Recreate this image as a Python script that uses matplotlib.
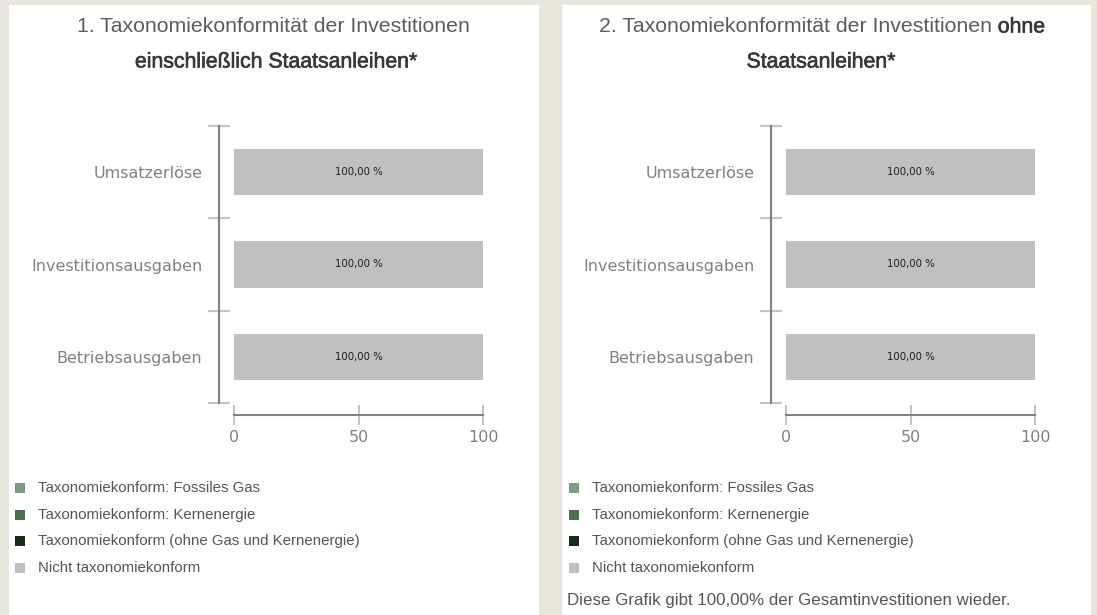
import matplotlib
matplotlib.use("Agg")
import matplotlib.pyplot as plt
import matplotlib.patheffects as pe
from matplotlib.patches import Rectangle
import numpy as np

W, H = 1097, 615

# --- data -------------------------------------------------------------
categories = ["Umsatzerlöse", "Investitionsausgaben", "Betriebsausgaben"]

# chart 1: incl. sovereign bonds
gas_incl = [0.0, 0.0, 0.0]
nuclear_incl = [0.0, 0.0, 0.0]
other_incl = [0.0, 0.0, 0.0]
not_aligned_incl = [100.0, 100.0, 100.0]

# chart 2: excl. sovereign bonds
gas_excl = [0.0, 0.0, 0.0]
nuclear_excl = [0.0, 0.0, 0.0]
other_excl = [0.0, 0.0, 0.0]
not_aligned_excl = [100.0, 100.0, 100.0]

x_ticks = [0, 50, 100]

legend_labels = [
    "Taxonomiekonform: Fossiles Gas",
    "Taxonomiekonform: Kernenergie",
    "Taxonomiekonform (ohne Gas und Kernenergie)",
    "Nicht taxonomiekonform",
]
legend_colors = ["#7f9c80", "#4a7049", "#182a19", "#c0c0c0"]

title1 = [("1. Taxonomiekonformität der Investitionen", "normal")]
title1b = [("einschließlich Staatsanleihen*", "bold")]
title2 = [("2. Taxonomiekonformität der Investitionen", "normal"), ("ohne", "bold")]
title2b = [("Staatsanleihen*", "bold")]
footnote = "Diese Grafik gibt 100,00% der Gesamtinvestitionen wieder."

TXT_FONT = ["Liberation Sans", "DejaVu Sans"]
AX_GRAY = "#808080"
TICK_GRAY = "#c4c4c4"

fig = plt.figure(figsize=(W / 100, H / 100), dpi=100, facecolor="#e8e5de")


def fx(x):
    return x / W


def fy(y):
    return 1 - y / H


def panel(x0, x1):
    fig.add_artist(Rectangle((fx(x0), fy(H)), (x1 - x0) / W, (H - 5) / H,
                             transform=fig.transFigure, facecolor="white",
                             edgecolor="none", zorder=-1))


def title_line(cx, y, parts, size=15.3):
    renderer = fig.canvas.get_renderer()
    texts = []
    for s, w in parts:
        if w == "normal":
            t = fig.text(0, fy(y), s, fontsize=size, color="#5c5c5c",
                         family=TXT_FONT, ha="left", va="center")
        else:
            # medium weight look: regular face with a thin stroke
            t = fig.text(0, fy(y), s, fontsize=size, color="#383838",
                         family=TXT_FONT, ha="left", va="center",
                         path_effects=[pe.withStroke(linewidth=0.45, foreground="#383838")])
        texts.append(t)
    widths = [t.get_window_extent(renderer).width for t in texts]
    gap = size * 1.389 * 0.28
    total = sum(widths) + gap * (len(texts) - 1)
    x = cx - total / 2
    for t, w in zip(texts, widths):
        t.set_x(fx(x))
        x += w + gap


def bar_chart(spine_x, bar_x0, bar_x1, series):
    top, bottom = 126, 403
    per100 = (bar_x1 - bar_x0) / 100.0
    xmin = -(bar_x0 - spine_x) / per100
    ax = fig.add_axes([fx(spine_x), fy(bottom), (bar_x1 - spine_x) / W, (bottom - top) / H])
    ax.set_facecolor("none")

    y = np.arange(len(categories))
    left = np.zeros(len(categories))
    cont = None
    for vals, col in zip(series, legend_colors):
        cont = ax.barh(y, vals, left=left, height=0.5, color=col, linewidth=0)
        left = left + np.array(vals)
    ax.bar_label(cont, labels=[f"{v:.2f}".replace(".", ",") + " %" for v in series[-1]],
                 label_type="center", fontsize=7.3, color="#1e1e1e")

    ax.set_xlim(xmin, 100)
    ax.set_ylim(len(categories) - 0.5, -0.5)
    ax.set_yticks(y)
    ax.set_yticklabels(categories)
    ax.set_yticks(np.arange(len(categories) + 1) - 0.5, minor=True)
    ax.tick_params(axis="y", which="major", length=0, pad=12, labelsize=11.5, labelcolor=AX_GRAY)
    ax.tick_params(axis="y", which="minor", length=16.5, width=1.6, color=TICK_GRAY, direction="inout")
    ax.set_xticks(x_ticks)
    ax.tick_params(axis="x", length=14.4, width=1.4, color=TICK_GRAY, direction="inout",
                   pad=4, labelsize=11.5, labelcolor=AX_GRAY)

    for s in ["top", "right"]:
        ax.spines[s].set_visible(False)
    ax.spines["left"].set_color(AX_GRAY)
    ax.spines["left"].set_linewidth(1.5)
    ax.spines["bottom"].set_color(AX_GRAY)
    ax.spines["bottom"].set_linewidth(1.5)
    ax.spines["bottom"].set_position(("outward", 8.6))
    ax.spines["bottom"].set_bounds(0, 100)
    return ax


def legend(x_sq, x_txt):
    rows = [488, 515, 541, 568]
    for yy, lab, col in zip(rows, legend_labels, legend_colors):
        fig.add_artist(Rectangle((fx(x_sq), fy(yy + 5)), 10 / W, 10 / H,
                                 transform=fig.transFigure, facecolor=col, edgecolor="none"))
        fig.text(fx(x_txt), fy(yy), lab, fontsize=10.8, color="#555555",
                 family=TXT_FONT, ha="left", va="center")


# --- panels -----------------------------------------------------------
panel(9, 539)
panel(562, 1091)

title_line(273, 27, title1)
title_line(276, 62, title1b)
title_line(822, 27, title2)
title_line(821, 62, title2b)

bar_chart(219, 234, 483, [gas_incl, nuclear_incl, other_incl, not_aligned_incl])
bar_chart(771, 786, 1035, [gas_excl, nuclear_excl, other_excl, not_aligned_excl])

legend(15, 38)
legend(569, 592)
fig.text(fx(567), fy(601), footnote, fontsize=12.2, color="#555555",
         family=TXT_FONT, ha="left", va="center")

fig.savefig("out.png", dpi=100, facecolor=fig.get_facecolor())
